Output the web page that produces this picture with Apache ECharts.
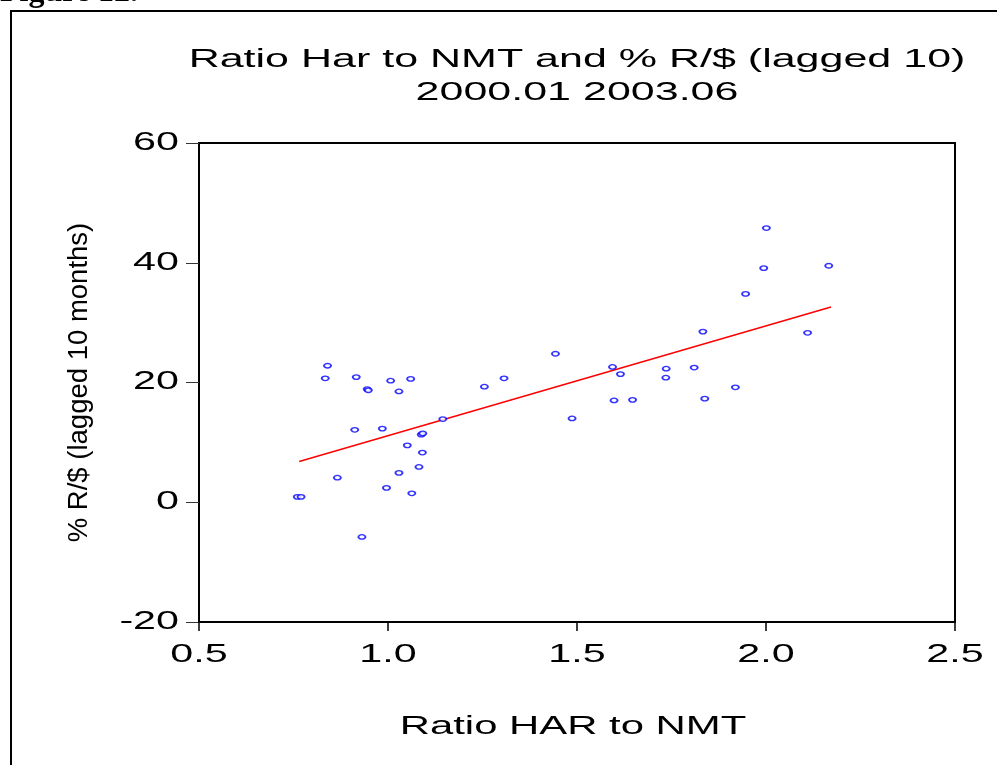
<!DOCTYPE html>
<html>
<head>
<meta charset="utf-8">
<title>Ratio Har to NMT and % R/$ (lagged 10)</title>
<script src="https://cdn.jsdelivr.net/npm/echarts@6/dist/echarts.min.js"></script>
<style>
  html, body { margin: 0; padding: 0; background: #fff; }
  #main { width: 997px; height: 765px; }
</style>
</head>
<body>
<div id="main"></div>
<script>
// ratio HAR to NMT, 2000.01 - 2003.06 (42 months)
const ratioHar = [0.760, 0.770, 0.834, 0.840, 0.866, 0.912, 0.916, 0.931, 0.945, 0.948,
  0.985, 0.996, 1.007, 1.029, 1.029, 1.051, 1.060, 1.063, 1.082, 1.091,
  1.088, 1.092, 1.145, 1.255, 1.307, 1.443, 1.487, 1.594, 1.598, 1.615,
  1.647, 1.735, 1.736, 1.810, 1.833, 1.838, 1.919, 1.946, 1.994, 2.001,
  2.110, 2.166];
// % R/$ lagged 10 months
const rDollarLag = [0.9, 0.9, 20.7, 22.8, 4.1, 12.1, 20.9, -5.8, 18.9, 18.7,
  12.3, 2.4, 20.3, 18.5, 4.9, 9.5, 20.6, 1.5, 5.9, 8.3,
  11.3, 11.5, 13.9, 19.3, 20.7, 24.8, 14.0, 22.6, 17.0, 21.4,
  17.1, 20.8, 22.3, 22.5, 28.5, 17.3, 19.2, 34.8, 39.1, 45.8,
  28.3, 39.5];
// fitted line, end points
const fitX = [0.765, 2.172];
const fitY = [6.8, 32.6];
// axis ranges: min, max, step
const xRange = [0.5, 2.5, 0.5];
const yRange = [-20, 60, 20];
const xTicks = [0.5, 1.0, 1.5, 2.0, 2.5];
const xTickLabels = ['0.5', '1.0', '1.5', '2.0', '2.5'];
const yTicks = [60, 40, 20, 0, -20];
const yTickLabels = ['60', '40', '20', '0', '-20'];

const titleLines = ['Ratio Har to NMT and % R/$ (lagged 10)', '2000.01 2003.06'];
const xName = 'Ratio HAR to NMT';
const yName = '% R/$ (lagged 10 months)';

let chartDom = document.getElementById('main');
let myChart = echarts.init(chartDom);

let scatterData = ratioHar.map((x, i) => [x, rDollarLag[i]]);
let fitData = fitX.map((x, i) => [x, fitY[i]]);

let font = 'Liberation Sans, Arial, sans-serif';

// the original output is stretched sideways, so the text is scaled on x
function stretchedText(text, x, y, size, sx, align) {
  align = align || 'center';
  return {
    type: 'text',
    x: x, y: y,
    scaleX: sx,
    style: {
      text: text,
      font: size + 'px ' + font,
      fill: '#000',
      align: align, verticalAlign: 'middle',
      textAlign: align, textVerticalAlign: 'middle'
    }
  };
}

let graphics = [
  // page frame
  {
    type: 'rect',
    shape: { x: 11, y: 11, width: 1000, height: 800 },
    style: { fill: 'none', stroke: '#000', lineWidth: 2 }
  },
  {
    type: 'text',
    x: 0, y: 9,
    style: {
      text: 'Figure 12.',
      font: 'bold 32px Liberation Serif, Times New Roman, serif',
      fill: '#000',
      verticalAlign: 'bottom', textVerticalAlign: 'bottom'
    }
  },
  stretchedText(titleLines[0], 577, 60, 25, 1.72),
  stretchedText(titleLines[1], 577, 93, 25, 1.72),
  stretchedText(xName, 573, 727, 26, 1.61)
];

let option = {
  animation: false,
  backgroundColor: '#fff',
  graphic: graphics,
  grid: {
    left: 199, top: 143, right: 42, bottom: 143,
    show: true,
    borderColor: '#000',
    borderWidth: 2
  },
  xAxis: {
    type: 'value',
    min: xRange[0], max: xRange[1], interval: xRange[2],
    axisLine: { show: true, onZero: false, lineStyle: { color: '#000', width: 2 } },
    axisTick: { show: true, length: 9, lineStyle: { color: '#000', width: 1.5 } },
    axisLabel: { show: false },
    splitLine: { show: false }
  },
  yAxis: {
    type: 'value',
    min: yRange[0], max: yRange[1], interval: yRange[2],
    name: yName,
    nameLocation: 'middle',
    nameGap: 106,
    nameTextStyle: { color: '#000', fontSize: 27.5, fontFamily: font },
    axisLine: { show: true, onZero: false, lineStyle: { color: '#000', width: 2 } },
    axisTick: { show: true, length: 13, lineStyle: { color: '#333', width: 1 } },
    axisLabel: { show: false },
    splitLine: { show: false }
  },
  series: [
    {
      name: 'fit',
      type: 'line',
      data: fitData,
      symbol: 'none',
      lineStyle: { color: '#ff0000', width: 1.5 },
      silent: true,
      z: 2
    },
    {
      name: 'R/$',
      type: 'scatter',
      data: scatterData,
      symbol: 'circle',
      symbolSize: [7, 4.5],
      itemStyle: { color: '#fff', borderColor: '#0000ff', borderWidth: 1.6 },
      z: 3
    }
  ]
};

myChart.setOption(option);

// tick labels placed with the chart's own scales, stretched like the original
xTicks.forEach((v, i) => {
  let p = myChart.convertToPixel({ gridIndex: 0 }, [v, yRange[0]]);
  graphics.push(stretchedText(xTickLabels[i], p[0], p[1] + 33, 25, 1.65));
});
yTicks.forEach((v, i) => {
  let p = myChart.convertToPixel({ gridIndex: 0 }, [xRange[0], v]);
  graphics.push(stretchedText(yTickLabels[i], p[0] - 20, p[1], 25, 1.65, 'right'));
});
myChart.setOption({ graphic: graphics });

window.onresize = myChart.resize;
</script>
</body>
</html>
